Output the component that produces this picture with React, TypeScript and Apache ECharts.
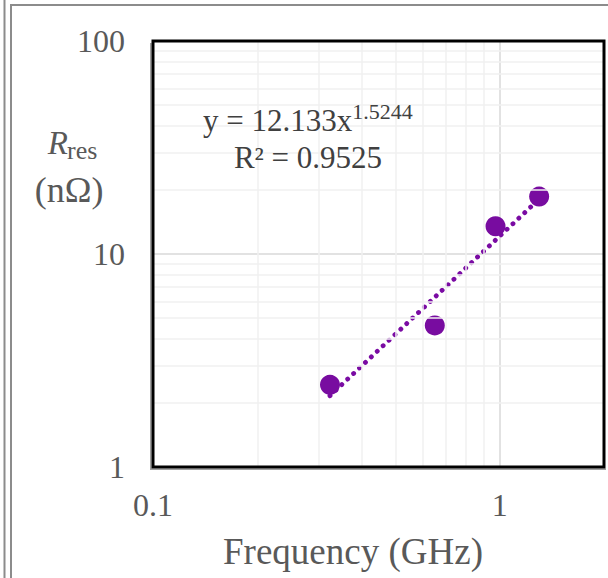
import React, { useEffect, useRef } from "react";
import * as echarts from "echarts";

const freqGHz = [0.324, 0.65, 0.973, 1.3];
const rresNOhm = [2.43, 4.62, 13.5, 18.6];
const trendX = [0.324, 1.3];
const trendY = [2.16, 18.1];
const xMinorGrid = [0.2, 0.3, 0.4, 0.5, 0.6, 0.7, 0.8, 0.9];
const yMinorGrid = [2, 3, 4, 5, 6, 7, 8, 9, 20, 30, 40, 50, 60, 70, 80, 90];
const equationMain = "y = 12.133x";
const equationExp = "1.5244";
const rSquared = "R² = 0.9525";

const SERIF = "'Liberation Serif', 'Times New Roman', serif";

export default function App() {
  const ref = useRef<HTMLDivElement>(null);
  useEffect(() => {
    if (!ref.current) return;
    const chart = echarts.init(ref.current, null, { renderer: "svg" });
    const minorColor = "#f0f0f0";
    chart.setOption({
      animation: false,
      backgroundColor: "#ffffff",
      textStyle: { fontFamily: SERIF },
      grid: {
        left: 153,
        right: 4,
        top: 41,
        bottom: 111,
        show: true,
        borderColor: "#000000",
        borderWidth: 3,
        z: 10,
      },
      xAxis: {
        type: "log",
        logBase: 10,
        min: 0.1,
        max: 2,
        axisLine: { show: false },
        axisTick: { show: false },
        splitLine: {
          show: true,
          showMinLine: false,
          showMaxLine: false,
          lineStyle: { color: "#d9d9d9", width: 1.5 },
        },
        axisLabel: {
          color: "#595959",
          fontSize: 32,
          fontFamily: SERIF,
          margin: 22,
          formatter: (v: number) => (v <= 1.0001 ? String(+v.toPrecision(3)) : ""),
        },
      },
      yAxis: {
        type: "log",
        logBase: 10,
        min: 1,
        max: 100,
        axisLine: { show: false },
        axisTick: { show: false },
        splitLine: {
          show: true,
          showMinLine: false,
          showMaxLine: false,
          lineStyle: { color: "#d9d9d9", width: 1.5 },
        },
        axisLabel: {
          color: "#595959",
          fontSize: 32,
          fontFamily: SERIF,
          margin: 28,
          formatter: (v: number) => String(Math.round(v)),
        },
      },
      series: [
        {
          type: "line",
          data: [],
          silent: true,
          markLine: {
            silent: true,
            symbol: "none",
            label: { show: false },
            lineStyle: { color: minorColor, type: "solid", width: 1.5 },
            data: [
              ...xMinorGrid.map((v) => ({ xAxis: v })),
              ...yMinorGrid.map((v) => ({ yAxis: v })),
            ],
          },
          z: 1,
        },
        {
          type: "line",
          data: trendX.map((x, i) => [x, trendY[i]]),
          symbol: "none",
          lineStyle: { color: "#7a0ba3", width: 4.8, type: [0.1, 8], cap: "round" },
          z: 3,
        },
        {
          type: "scatter",
          data: freqGHz.map((x, i) => [x, rresNOhm[i]]),
          symbolSize: 20,
          itemStyle: { color: "#780ca0", opacity: 1 },
          z: 4,
        },
      ],
      graphic: [
        { type: "line", shape: { x1: 4.5, y1: 0, x2: 4.5, y2: 578 }, style: { stroke: "#8c8c8c", lineWidth: 2 } },
        { type: "line", shape: { x1: 11, y1: 4, x2: 11, y2: 578 }, style: { stroke: "#8c8c8c", lineWidth: 2 } },
        { type: "line", shape: { x1: 10, y1: 5, x2: 608, y2: 5 }, style: { stroke: "#8c8c8c", lineWidth: 2 } },
        {
          type: "polyline",
          shape: { points: [[150.8, 43], [150.8, 469.2], [606, 469.2]] },
          style: { stroke: "#a0a0a0", lineWidth: 1.6, fill: null },
          z: 5,
        },
        {
          type: "text",
          x: 203,
          y: 100,
          style: {
            text: "{a|" + equationMain + "}{b|" + equationExp + "}",
            fill: "#404040",
            rich: {
              a: { fontSize: 31, fontFamily: SERIF, fill: "#404040", lineHeight: 36, verticalAlign: "bottom" },
              b: { fontSize: 22, fontFamily: SERIF, fill: "#404040", lineHeight: 22, verticalAlign: "top" },
            },
          },
          z: 10,
        },
        {
          type: "text",
          x: 308,
          y: 157,
          style: {
            text: rSquared,
            fill: "#404040",
            font: "31px " + SERIF,
            align: "center",
            verticalAlign: "middle",
          },
          z: 10,
        },
        {
          type: "text",
          x: 68,
          y: 143,
          style: {
            text: "R",
            fill: "#595959",
            font: "italic 33px " + SERIF,
            align: "right",
            verticalAlign: "middle",
          },
          z: 10,
        },
        {
          type: "text",
          x: 67,
          y: 150,
          style: {
            text: "res",
            fill: "#595959",
            font: "26px " + SERIF,
            align: "left",
            verticalAlign: "middle",
          },
          z: 10,
        },
        {
          type: "text",
          x: 69,
          y: 190,
          style: {
            text: "(nΩ)",
            fill: "#595959",
            font: "36px " + SERIF,
            align: "center",
            verticalAlign: "middle",
          },
          z: 10,
        },
        {
          type: "text",
          x: 353,
          y: 551,
          style: {
            text: "Frequency (GHz)",
            fill: "#595959",
            font: "37px " + SERIF,
            align: "center",
            verticalAlign: "middle",
          },
          z: 10,
        },
      ],
    });
    return () => chart.dispose();
  }, []);
  return (
    <div
      ref={ref}
      style={{ position: "absolute", left: 0, top: 0, width: 608, height: 578 }}
    />
  );
}
